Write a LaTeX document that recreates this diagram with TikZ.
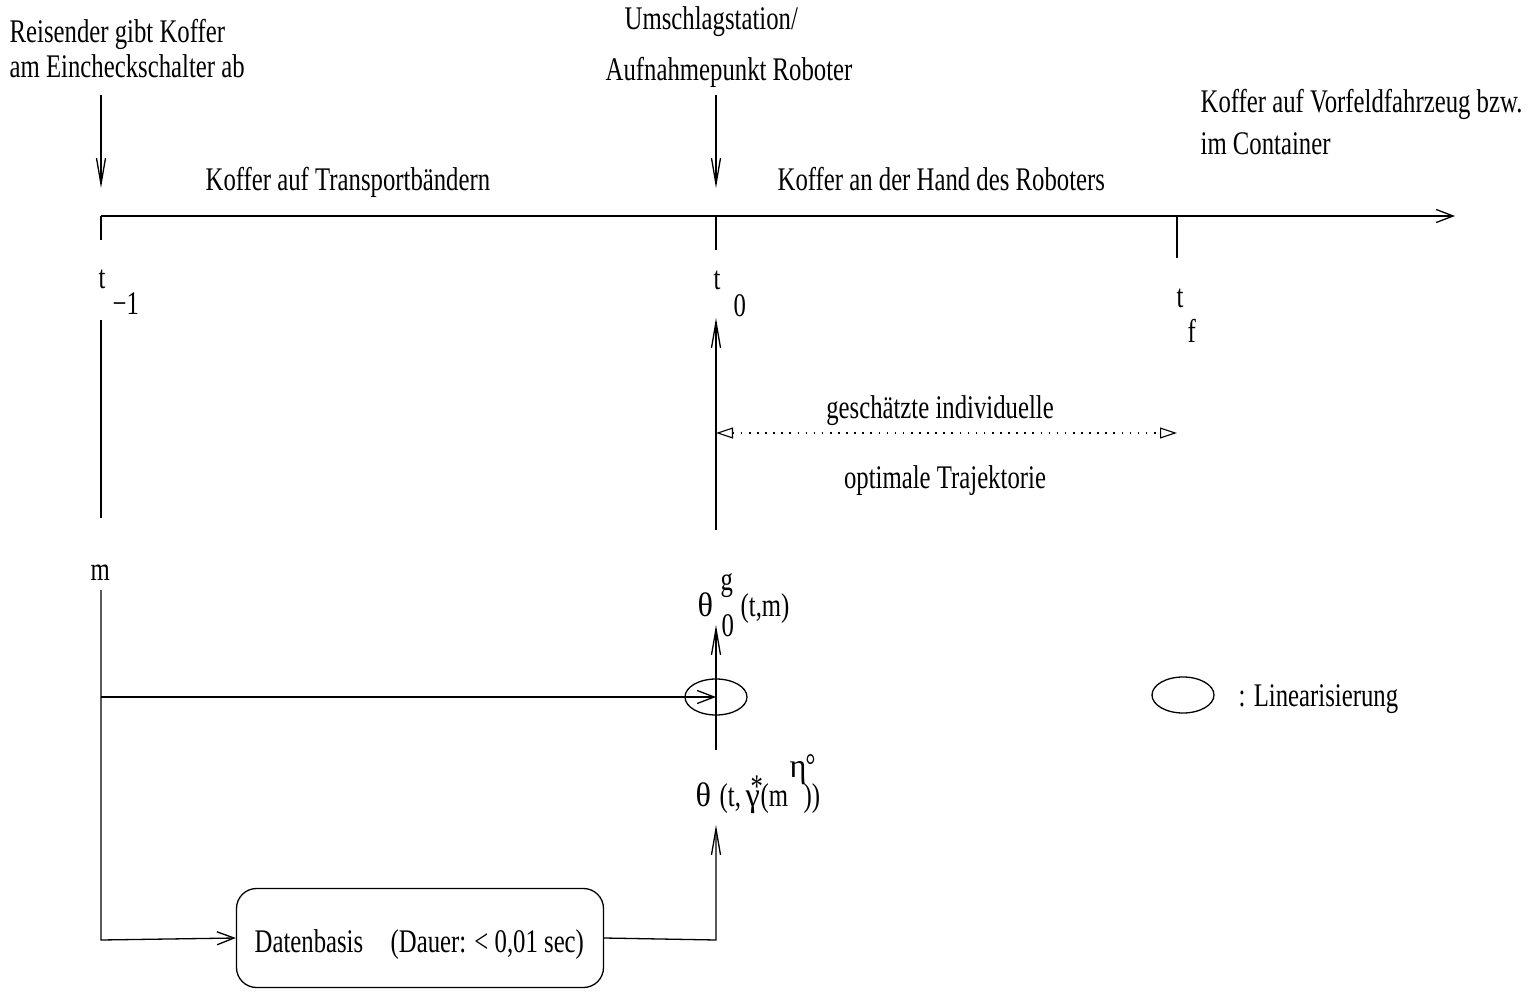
\documentclass[tikz,border=0pt]{standalone}
\usepackage{fontspec}
\setmainfont{Liberation Serif}[FakeStretch=0.75]
\newfontfamily\grk{Liberation Serif}[FakeStretch=0.95]
\usetikzlibrary{arrows.meta,shapes.geometric}
\begin{document}
\begin{tikzpicture}[x=1pt,y=-1pt,
  line width=1.3pt,
  lbl/.style={inner sep=0pt, anchor=base west, font=\fontsize{33}{38}\selectfont},
  glbl/.style={inner sep=0pt, anchor=base west, font=\grk\fontsize{34}{38}\selectfont},
  clbl/.style={lbl, anchor=base},
  vtip/.style={-{Straight Barb[length=26pt,width=9pt]}},
  htip/.style={-{Straight Barb[length=17pt,width=13pt]}},
  dotarrow/.style={dash pattern=on 1.6pt off 6.5pt, {Triangle[open,length=17pt,width=11pt]}-{Triangle[open,length=17pt,width=11pt]}},
  lin/.style={draw, ellipse, inner sep=0pt, minimum width=62pt, minimum height=36pt}]
\useasboundingbox (0,0) rectangle (1540,992);
% texts on top
\node[lbl] (r1) at (9,43) {Reisender gibt Koffer};
\node[lbl] (r2) at (9,78) {am Eincheckschalter ab};
\node[lbl] (u1) at (624,30) {Umschlagstation/};
\node[lbl] (u2) at (605,81) {Aufnahmepunkt Roboter};
\node[lbl] (v1) at (1200,113) {Koffer auf Vorfeldfahrzeug bzw.};
\node[lbl] (v2) at (1200,155) {im Container};
\node[lbl] (kt) at (205,191) {Koffer auf Transportbändern};
\node[lbl] (kr) at (777,191) {Koffer an der Hand des Roboters};
% time labels
\node[lbl] (tm1) at (98,289) {t};
\node[lbl] (tm1s) at (112,315) {−1};
\node[lbl] (t0) at (713,290) {t};
\node[lbl] (t0s) at (733,317) {0};
\node[lbl] (tf) at (1176,308) {t};
\node[lbl] (tfs) at (1187,343) {f};
\node[lbl] (m) at (90,580) {m};
% trajectory labels
\node[clbl] (g1) at (940,418) {geschätzte individuelle};
\node[clbl] (g2) at (945,488) {optimale Trajektorie};
% theta_0^g
\node[glbl] (th0) at (697,616) {θ};
\node[lbl] (th0g) at (720,590) {g};
\node[lbl] (th0s) at (721,636) {0};
\node[lbl] (th0a) at (740,616) {(t,m)};
% theta (t, gamma*(m^eta°))
\node[glbl] (th) at (695,806) {θ};
\node[lbl] (tha) at (719,806) {(t,};
\node[glbl] (thg) at (745,806) {γ};
\node[lbl] (thb) at (750,797) {*};
\node[lbl] (thc) at (760,806) {(m};
\node[glbl] (thd) at (789,777) {η};
\node[lbl] (the) at (805,776) {°};
\node[lbl] (thf) at (803,806) {))};
% box
\node[draw, rounded corners=20pt, minimum width=367pt, minimum height=99pt, inner sep=0pt] (db) at (420,938) {};
\node[lbl] (dbt) at (254,952) {Datenbasis};
\node[lbl] (dbu) at (390,952) {(Dauer: < 0,01 sec)};
% ellipses
\node[lin] (el) at (716,697) {};
\node[lin] (leg) at (1183,695) {};
\node[lbl] (legt) at (1238,706) {: Linearisierung};
% coordinates
\coordinate (a0) at (101,216);
\coordinate (aE) at (1455,216);
\coordinate (k1) at (101,240);
\coordinate (k0a) at (716,216);
\coordinate (k0) at (716,250);
\coordinate (kfa) at (1177,216);
\coordinate (kf) at (1177,258);
\coordinate (d1s) at (101,95);
\coordinate (d1e) at (101,188);
\coordinate (d0s) at (716,95);
\coordinate (d0e) at (716,188);
\coordinate (l1) at (101,320);
\coordinate (l2) at (101,518);
\coordinate (l3) at (101,590);
\coordinate (lh) at (101,697);
\coordinate (l4) at (101,940);
\coordinate (up1s) at (716,530);
\coordinate (up1e) at (716,318);
\coordinate (up2s) at (716,750);
\coordinate (up2e) at (716,625);
\coordinate (b1) at (716,940);
\coordinate (up3e) at (716,825);
\coordinate (dt1) at (716,433);
\coordinate (dt2) at (1177,433);
% lines
\draw[htip] (a0) -- (aE);
\draw (a0) -- (k1);
\draw (k0a) -- (k0);
\draw (kfa) -- (kf);
\draw[vtip] (d1s) -- (d1e);
\draw[vtip] (d0s) -- (d0e);
\draw (l1) -- (l2);
\draw[htip] (l3) -- (l4) -- (db.west);
\draw[htip] (lh) -- (el.center);
\draw[vtip] (up1s) -- (up1e);
\draw[vtip] (up2s) -- (up2e);
\draw[vtip] (db.east) -- (b1) -- (up3e);
\draw[dotarrow, line width=1.1pt] (dt1) -- (dt2);
\end{tikzpicture}
\end{document}
